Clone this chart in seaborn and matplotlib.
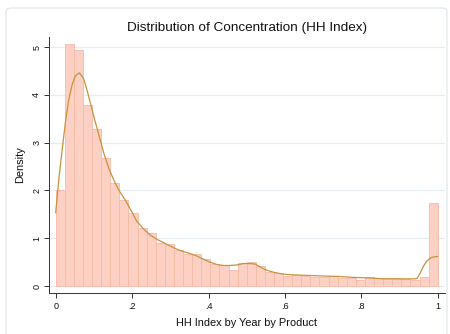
import numpy as np
import pandas as pd
import matplotlib
matplotlib.use("Agg")
import matplotlib.pyplot as plt
from matplotlib.patches import FancyBboxPatch
import seaborn as sns

# Histogram densities, 42 equal-width bins over [0, 1]
bar_density = [2.00, 5.06, 4.94, 3.79, 3.28, 2.68, 2.15, 1.80, 1.53, 1.21,
               1.10, 0.91, 0.87, 0.75, 0.67, 0.68, 0.56, 0.47, 0.44, 0.33,
               0.49, 0.50, 0.41, 0.29, 0.27, 0.21, 0.24, 0.21, 0.19, 0.19,
               0.22, 0.17, 0.17, 0.12, 0.19, 0.16, 0.17, 0.17, 0.15, 0.12,
               0.18, 1.73]

# Kernel density estimate of the HH index
kde_x = [0.000, 0.008, 0.017, 0.025, 0.034, 0.043, 0.051, 0.062, 0.073, 0.082,
         0.091, 0.100, 0.113, 0.126, 0.139, 0.152, 0.165, 0.182, 0.194, 0.212,
         0.229, 0.247, 0.264, 0.282, 0.299, 0.317, 0.334, 0.352, 0.369, 0.387,
         0.404, 0.422, 0.439, 0.456, 0.474, 0.491, 0.509, 0.522, 0.535, 0.552,
         0.570, 0.587, 0.605, 0.631, 0.666, 0.700, 0.740, 0.780, 0.820, 0.860,
         0.900, 0.940, 0.946, 0.954, 0.963, 0.971, 0.984, 1.000]
kde_y = [1.53, 2.22, 2.85, 3.40, 3.89, 4.21, 4.39, 4.46, 4.34, 4.10,
         3.82, 3.54, 3.16, 2.78, 2.46, 2.22, 2.01, 1.80, 1.63, 1.36,
         1.20, 1.07, 0.98, 0.91, 0.84, 0.77, 0.72, 0.68, 0.63, 0.56,
         0.50, 0.45, 0.43, 0.43, 0.44, 0.47, 0.47, 0.46, 0.40, 0.33,
         0.29, 0.26, 0.24, 0.23, 0.22, 0.21, 0.20, 0.18, 0.17, 0.15,
         0.15, 0.15, 0.16, 0.27, 0.42, 0.52, 0.60, 0.62]

x_ticks = [0, 0.2, 0.4, 0.6, 0.8, 1.0]
x_ticklabels = ["0", ".2", ".4", ".6", ".8", "1"]
y_ticks = [0, 1, 2, 3, 4, 5]
y_ticklabels = ["0", "1", "2", "3", "4", "5"]

title = "Distribution of Concentration (HH Index)"
x_title = "HH Index by Year by Product"
y_title = "Density"

sns.set_theme(style="white")
plt.rcParams["font.family"] = ["Liberation Sans", "DejaVu Sans"]

n_bins = len(bar_density)
bin_w = 1.0 / n_bins
centers = [(i + 0.5) * bin_w for i in range(n_bins)]
bars = pd.DataFrame({"hhi": centers, "density": bar_density})
curve = pd.DataFrame({"hhi": kde_x, "density": kde_y})

fig = plt.figure(figsize=(4.5, 3.34), dpi=100)
ax = fig.add_axes([49 / 450, 41 / 334, 396 / 450, 256 / 334])

# light graph-region frame
frame = FancyBboxPatch((6 / 450, -0.05), 441 / 450, (334 - 8) / 334 + 0.05,
                       boxstyle="round,pad=0,rounding_size=0.012",
                       transform=fig.transFigure, facecolor="none",
                       edgecolor="#dbe5ea", linewidth=0.8, zorder=0)
fig.patches.append(frame)

for yv in y_ticks:
    ax.axhline(yv, color="#e6eef1", linewidth=0.9, zorder=0)

sns.histplot(data=bars, x="hhi", weights="density", binwidth=bin_w,
             binrange=(0.0, 1.0), stat="count",
             color="#fdd0c4", edgecolor="#f7b9a8", linewidth=0.6, alpha=1.0,
             ax=ax, zorder=2)
sns.lineplot(data=curve, x="hhi", y="density", color="#c8933d", linewidth=0.9,
             sort=False, ax=ax, zorder=3)

ax.set_xlim(-0.0175, 1.019)
ax.set_ylim(-0.146, 5.21)
ax.set_xticks(x_ticks)
ax.set_xticklabels(x_ticklabels, fontsize=6.5)
ax.set_yticks(y_ticks)
ax.set_yticklabels(y_ticklabels, fontsize=6.5, rotation=90, va="center")
ax.tick_params(axis="both", direction="out", length=3.6, width=0.7,
               color="#333333", labelcolor="#111111", pad=2)
ax.tick_params(axis="x", bottom=True, pad=3)
ax.tick_params(axis="y", left=True)
for side in ["top", "right"]:
    ax.spines[side].set_visible(False)
for side in ["left", "bottom"]:
    ax.spines[side].set_color("#333333")
    ax.spines[side].set_linewidth(0.7)

ax.set_xlabel(x_title, fontsize=7.9, color="#111111", labelpad=5)
ax.set_ylabel(y_title, fontsize=7.9, color="#111111", labelpad=5)
fig.text(246.7 / 450, 1 - 28 / 334, title, ha="center", va="center",
         fontsize=9.7, color="#111111")

fig.savefig("out.png", dpi=100)
